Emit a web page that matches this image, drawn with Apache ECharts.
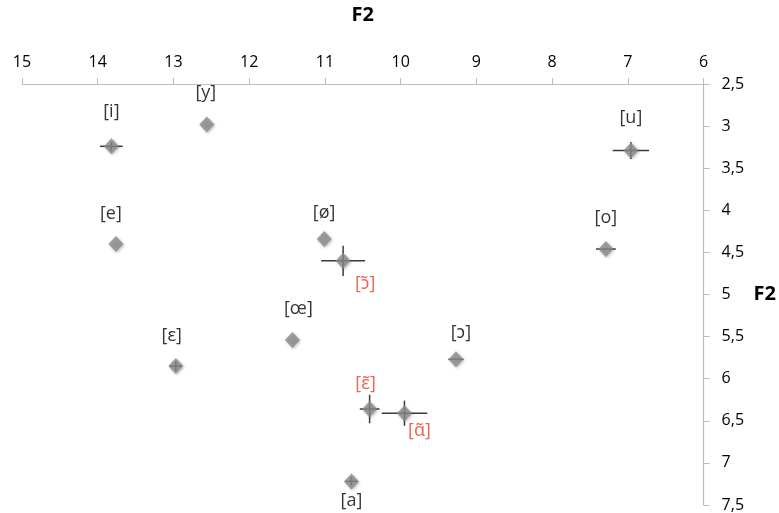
<!DOCTYPE html>
<html><head><meta charset="utf-8">
<script src="https://cdn.jsdelivr.net/npm/echarts@6/dist/echarts.min.js"></script>
<style>html,body{margin:0;padding:0;background:#fff}#c{width:779px;height:513px}</style>
</head><body><div id="c"></div>
<script>
// Data
const labels = ['[i]','[y]','[u]','[e]','[ø]','[ɔ̃]','[o]','[œ]','[ɛ]','[ɔ]','[ɛ̃]','[ɑ̃]','[a]'];
const f2Values = [13.82,12.56,6.96,13.76,11.01,10.76,7.29,11.43,12.97,9.27,10.41,9.95,10.65];
const f1Values = [3.24,2.98,3.29,4.40,4.34,4.60,4.46,5.54,5.85,5.77,6.36,6.41,7.22];
const f2Err = [0.15,0.0,0.24,0.0,0.0,0.29,0.13,0.0,0.08,0.10,0.13,0.30,0.08];
const f1Err = [0.05,0.0,0.10,0.0,0.0,0.18,0.0,0.0,0.06,0.0,0.17,0.15,0.05];
const nasal = [false,false,false,false,false,true,false,false,false,false,true,true,false];
const xTicks = [15,14,13,12,11,10,9,8,7,6];
const yTicks = [2.5,3,3.5,4,4.5,5,5.5,6,6.5,7,7.5];

// Label placement (style, kept apart from data)
const labelOffsets = [[0,-34],[-1,-32],[0,-33],[-5,-30],[0,-26],[22,23],[0,-31],[6,-31],[-4,-30],[5,-26],[-4,-25],[15,18],[0,19]];

const font = '"Open Sans","Noto Sans",sans-serif';
const chart = echarts.init(document.getElementById('c'));
const pts = labels.map((l,i)=>({
  value:[f2Values[i],f1Values[i]],
  label:{offset:labelOffsets[i], color: nasal[i] ? '#e8402a' : '#000'}
}));
const errData = labels.map((l,i)=>[f2Values[i],f1Values[i],f2Err[i],f1Err[i]]);

chart.setOption({
  animation:false,
  grid:{left:22,right:75,top:79,bottom:8},
  xAxis:{
    type:'value', position:'top', inverse:true, min:6, max:15, interval:1,
    name:'F2', nameLocation:'middle', nameGap:59,
    nameTextStyle:{fontFamily:font,fontWeight:'bold',fontSize:20,color:'#000'},
    axisLine:{show:true,lineStyle:{color:'#bdbdbd',width:1.2}},
    axisTick:{show:true,length:6,lineStyle:{color:'#bdbdbd'}},
    axisLabel:{fontFamily:font,fontSize:16,color:'#000',margin:14},
    splitLine:{show:false}
  },
  yAxis:{
    type:'value', position:'right', inverse:true, min:2.5, max:7.5, interval:0.5,
    name:'F2', nameLocation:'middle', nameGap:50, nameRotate:0,
    nameTextStyle:{fontFamily:font,fontWeight:'bold',fontSize:20,color:'#000'},
    axisLine:{show:true,lineStyle:{color:'#bdbdbd',width:1.2}},
    axisTick:{show:true,length:6,lineStyle:{color:'#bdbdbd'}},
    axisLabel:{fontFamily:font,fontSize:16,color:'#000',margin:18,
      formatter:v=>String(v).replace('.',',')},
    splitLine:{show:false}
  },
  series:[
    {
      type:'custom',
      data:errData,
      z:1,
      renderItem:(params,api)=>{
        const x=api.value(0), y=api.value(1), ex=api.value(2), ey=api.value(3);
        const c=api.coord([x,y]);
        const children=[];
        const st={stroke:'#3a3a3a',lineWidth:1.5};
        if(ex>0){
          const a=api.coord([x-ex,y]), b=api.coord([x+ex,y]);
          children.push({type:'line',shape:{x1:a[0],y1:c[1],x2:b[0],y2:c[1]},style:st});
        }
        if(ey>0){
          const a=api.coord([x,y-ey]), b=api.coord([x,y+ey]);
          children.push({type:'line',shape:{x1:c[0],y1:a[1],x2:c[0],y2:b[1]},style:st});
        }
        return {type:'group',children};
      }
    },
    {
      type:'scatter',
      data:pts,
      z:2,
      symbol:'diamond',
      symbolSize:[15,16],
      itemStyle:{color:'#8c8c8c',shadowColor:'rgba(0,0,0,0.35)',shadowBlur:3,shadowOffsetX:1,shadowOffsetY:1},
      label:{show:true,position:'inside',fontFamily:font,fontSize:18,
        formatter:p=>labels[p.dataIndex]},
      emphasis:{disabled:true}
    }
  ]
});
</script></body></html>
